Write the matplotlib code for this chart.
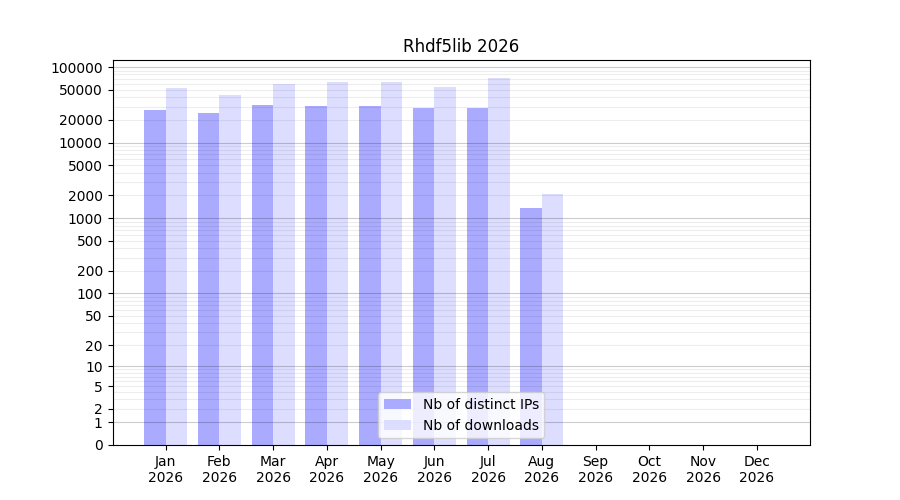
import numpy as np
import matplotlib
matplotlib.use('Agg')
import matplotlib.pyplot as plt
from matplotlib.ticker import FixedLocator, NullFormatter

months = ['Jan', 'Feb', 'Mar', 'Apr', 'May', 'Jun',
          'Jul', 'Aug', 'Sep', 'Oct', 'Nov', 'Dec']
year = '2026'
ips = [26800, 24400, 31200, 30300, 30300, 28500, 28500, 1370, 0, 0, 0, 0]
downloads = [52300, 42300, 59200, 62900, 62900, 54000, 71100, 2090, 0, 0, 0, 0]
ytick_vals = [0, 1, 2, 5, 10, 20, 50, 100, 200, 500, 1000, 2000, 5000,
              10000, 20000, 50000, 100000]


def fwd(x):
    return np.log10(1 + np.clip(x, 0, None))


def inv(y):
    return 10 ** y - 1


fig, ax = plt.subplots(figsize=(9, 5), dpi=100)
x = np.arange(len(months))
w = 0.4
ax.bar(x - w / 2, ips, w, color='#aaaaff', label='Nb of distinct IPs')
ax.bar(x + w / 2, downloads, w, color='#ddddff', label='Nb of downloads')

ax.set_yscale('function', functions=(fwd, inv))
ax.set_ylim(0, 124000)
ax.yaxis.set_major_locator(FixedLocator(ytick_vals))
ax.set_yticklabels([str(v) for v in ytick_vals])
minor = [m * 10 ** e for e in range(0, 6) for m in range(2, 10) if m * 10 ** e < 124000]
ax.yaxis.set_minor_locator(FixedLocator(minor))
ax.yaxis.set_minor_formatter(NullFormatter())
ax.tick_params(axis='y', which='minor', length=0)

# grid: powers of ten darker, the rest faint
for e in range(0, 6):
    ax.axhline(10 ** e, color='black', alpha=0.2, lw=0.8, zorder=3)
for v in minor:
    ax.axhline(v, color='black', alpha=0.07, lw=0.8, zorder=3)

ax.set_xticks(x)
ax.set_xticklabels([m + '\n' + year for m in months])
ax.set_title('Rhdf5lib 2026')
ax.legend(loc='lower center')

plt.savefig('out.png')
